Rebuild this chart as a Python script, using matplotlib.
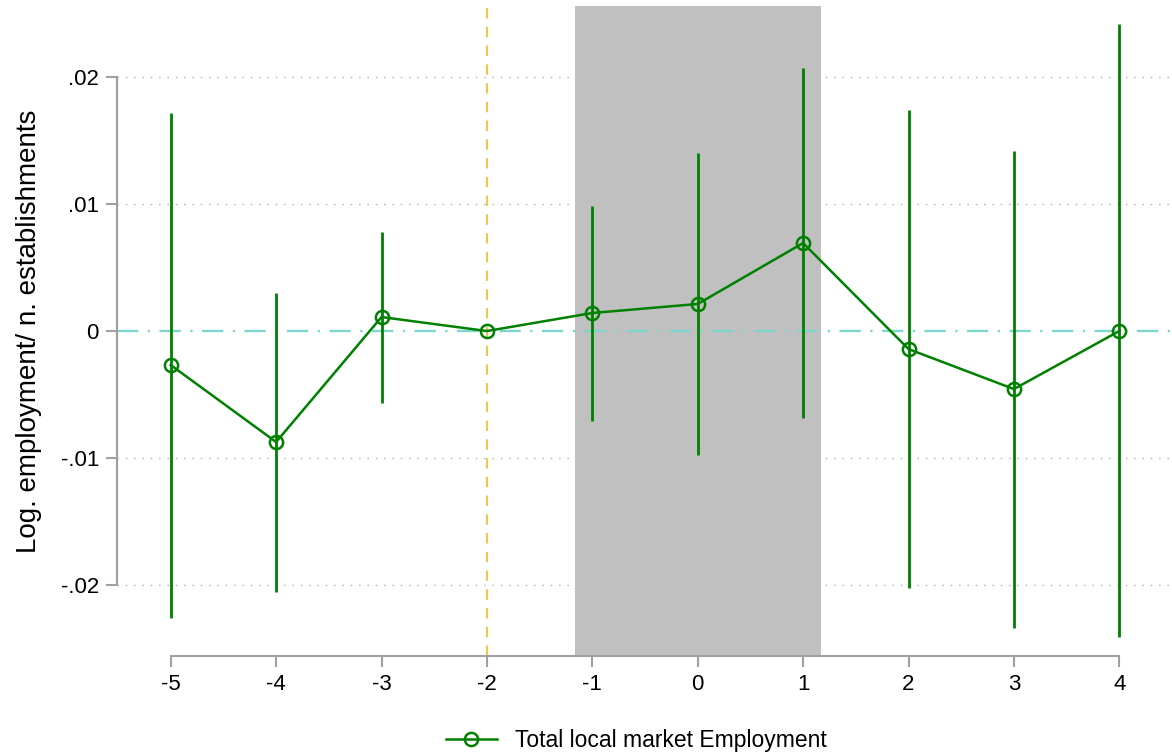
import numpy as np
import matplotlib
matplotlib.use("Agg")
import matplotlib.pyplot as plt

plt.rcParams['font.family'] = ['Liberation Sans', 'DejaVu Sans']

# event time and estimates
periods = [-5, -4, -3, -2, -1, 0, 1, 2, 3, 4]
coef = [-0.00268, -0.00874, 0.00110, 0.0, 0.00142, 0.00213, 0.00693, -0.00142, -0.00457, 0.0]
ci_low = [-0.0226, -0.02055, -0.00567, 0.0, -0.00709, -0.00976, -0.00685, -0.0202, -0.0234, -0.0241]
ci_high = [0.01717, 0.00299, 0.0078, 0.0, 0.00984, 0.0140, 0.0207, 0.0174, 0.0142, 0.0242]
yticks = [-0.02, -0.01, 0, 0.01, 0.02]
ytick_labels = ['-.02', '-.01', '0', '.01', '.02']
shade_span = (-1.16, 1.17)
ref_period = -2

green = '#008000'

fig = plt.figure(figsize=(11.72, 7.55), dpi=100)
ax = fig.add_axes([0.0998, 0.1311, 0.9002, 0.8609])

# grid
for yv in yticks:
    if yv != 0:
        ax.axhline(yv, color='#b0b0b0', linestyle=(0, (1, 5)), linewidth=1, zorder=0)

ax.axvspan(shade_span[0], shade_span[1], color='#c0c0c0', zorder=1, linewidth=0)
ax.axvline(ref_period, color='#f2c54e', linestyle=(0, (5, 4)), linewidth=1.5, zorder=2)
ax.axhline(0, color='#7fd6cc', linestyle=(0, (9, 4, 1, 4)), linewidth=1.7, zorder=2)

ax.vlines(periods, ci_low, ci_high, color=green, linewidth=2.0, zorder=3)
ax.plot(periods, coef, color=green, linewidth=1.8, marker='o', markersize=9.5,
        markerfacecolor='none', markeredgewidth=1.8, zorder=4,
        label='Total local market Employment')

ax.set_xlim(-5.51, 4.5)
ax.set_ylim(-0.02559, 0.02559)
ax.set_xticks(periods)
ax.set_xticklabels([str(p) for p in periods])
ax.set_yticks(yticks)
ax.set_yticklabels(ytick_labels)

for s in ['top', 'right']:
    ax.spines[s].set_visible(False)
ax.spines['left'].set_bounds(-0.02, 0.02)
ax.spines['bottom'].set_bounds(-5, 4)
for s in ['left', 'bottom']:
    ax.spines[s].set_color('#a0a0a0')
    ax.spines[s].set_linewidth(1.5)
ax.tick_params(axis='both', colors='#a0a0a0', width=1.5, length=8, labelsize=16,
               labelcolor='black', pad=5)

ax.set_ylabel('Log. employment/ n. establishments', fontsize=20)
ax.yaxis.set_label_coords(-0.071, 0.5)

fig.legend(loc='lower center', bbox_to_anchor=(0.543, -0.024), frameon=False,
           fontsize=16.5, handlelength=2.2)

fig.savefig('out.png', dpi=100)
